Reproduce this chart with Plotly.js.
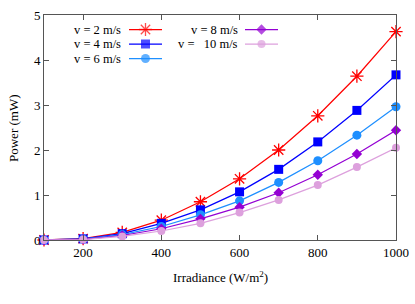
<!DOCTYPE html>
<html><head><meta charset="utf-8">
<script src="https://cdn.plot.ly/plotly-3.0.1.min.js"></script>
<style>html,body{margin:0;padding:0;background:#fff}#chart{width:415px;height:304px}</style>
</head><body><div id="chart"></div>
<script>
const irradiance = [100, 200, 300, 400, 500, 600, 700, 800, 900, 1000];
const power_v2  = [0, 0.03, 0.17, 0.44, 0.85, 1.36, 2.00, 2.76, 3.64, 4.63];
const power_v4  = [0, 0.025, 0.14, 0.37, 0.67, 1.07, 1.57, 2.18, 2.88, 3.67];
const power_v6  = [0, 0.02, 0.12, 0.30, 0.56, 0.87, 1.28, 1.76, 2.33, 2.96];
const power_v8  = [0, 0.015, 0.10, 0.25, 0.47, 0.73, 1.05, 1.45, 1.91, 2.44];
const power_v10 = [0, 0.01, 0.08, 0.20, 0.37, 0.61, 0.89, 1.22, 1.62, 2.05];
const seriesNames = ['v = 2 m/s', 'v = 4 m/s', 'v = 6 m/s', 'v = 8 m/s', 'v =\u00a0\u00a0\u00a010 m/s'];
const xTicks = [200, 400, 600, 800, 1000];
const yTicks = [0, 1, 2, 3, 4, 5];
const xTitle = 'Irradiance (W/m<sup>2</sup>)';
const yTitle = 'Power (mW)';

const colors = ['#ff0000', '#0000ff', '#1e8fff', '#9400d3', '#dda0dd'];
const symbols = ['asterisk-open', 'square', 'circle', 'diamond', 'circle'];
const sizes = [11, 9, 9, 8, 8];
const values = [power_v2, power_v4, power_v6, power_v8, power_v10];
const font = 'Liberation Serif, Times New Roman, serif';

const traces = values.map((v, i) => ({
  x: irradiance, y: v, type: 'scatter', mode: 'lines+markers', name: seriesNames[i],
  line: {color: colors[i], width: 1.25},
  marker: {color: colors[i], symbol: symbols[i], size: sizes[i], line: {color: colors[i], width: i === 0 ? 1.3 : 0}},
  cliponaxis: false, showlegend: false
}));

// legend samples drawn in a pixel-coordinate overlay
const legendPos = [
  {tx: 123, x0: 129, x1: 162, y: 29.5},
  {tx: 123, x0: 129, x1: 162, y: 44},
  {tx: 123, x0: 129, x1: 162, y: 58.5},
  {tx: 240, x0: 245, x1: 278, y: 29.5},
  {tx: 240, x0: 245, x1: 278, y: 44}
];
const annotations = [];
legendPos.forEach((p, i) => {
  traces.push({
    x: [p.x0, (p.x0 + p.x1) / 2, p.x1], y: [p.y, p.y, p.y], xaxis: 'x2', yaxis: 'y2',
    type: 'scatter', mode: 'lines+markers', showlegend: false, hoverinfo: 'skip',
    line: {color: colors[i], width: 1.25},
    marker: {color: colors[i], symbol: symbols[i], size: [0, sizes[i], 0], line: {color: colors[i], width: i === 0 ? 1.3 : 0}},
    cliponaxis: false
  });
  annotations.push({
    xref: 'x2', yref: 'y2', x: p.tx, y: p.y, text: seriesNames[i], showarrow: false,
    xanchor: 'right', yanchor: 'middle', font: {family: font, size: 12.5, color: '#000'}
  });
});
// axis titles (paper coordinates; plot area is 44..396 px wide, 15..240 px high)
const px = (x) => (x - 44) / 352;
const py = (y) => (240 - y) / 225;
annotations.push({xref: 'paper', yref: 'paper', x: px(220), y: py(277), text: xTitle, showarrow: false,
  xanchor: 'center', yanchor: 'middle', font: {family: font, size: 13, color: '#000'}});
annotations.push({xref: 'paper', yref: 'paper', x: px(13), y: py(128), text: yTitle, showarrow: false, textangle: -90,
  xanchor: 'center', yanchor: 'middle', font: {family: font, size: 13, color: '#000'}});

const axisCommon = {
  showgrid: false, zeroline: false, showline: true, linecolor: '#555', linewidth: 1,
  mirror: 'allticks', ticks: 'inside', ticklen: 5, tickcolor: '#555', tickwidth: 1,
  tickfont: {family: font, size: 13, color: '#000'}
};

const layout = {
  width: 415, height: 304, margin: {l: 44, r: 19, t: 15, b: 64},
  paper_bgcolor: '#fff', plot_bgcolor: '#fff', showlegend: false,
  xaxis: Object.assign({}, axisCommon, {
    range: [100, 1000], tickmode: 'array', tickvals: xTicks, ticktext: xTicks.map(String)
  }),
  yaxis: Object.assign({}, axisCommon, {
    range: [0, 5], tickmode: 'array', tickvals: yTicks, ticktext: yTicks.map(String)
  }),
  xaxis2: {overlaying: 'x', anchor: 'y2', range: [44, 396], visible: false, fixedrange: true},
  yaxis2: {overlaying: 'y', anchor: 'x2', range: [240, 15], visible: false, fixedrange: true},
  annotations: annotations
};

Plotly.newPlot('chart', traces, layout, {staticPlot: true, displayModeBar: false});
</script>
</body></html>
